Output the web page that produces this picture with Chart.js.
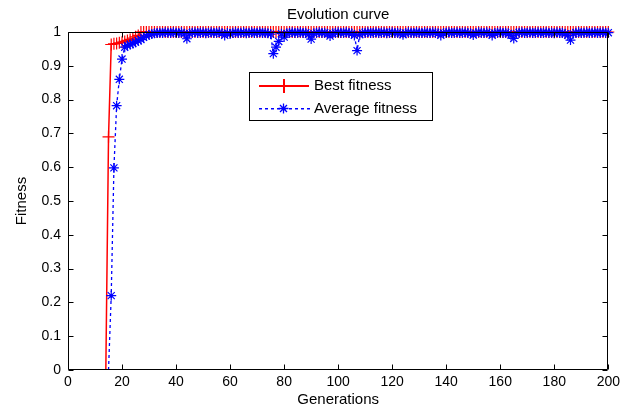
<!DOCTYPE html>
<html>
<head>
<meta charset="utf-8">
<script src="https://cdn.jsdelivr.net/npm/chart.js@4/dist/chart.umd.min.js"></script>
<style>
html,body{margin:0;padding:0;background:#fff;}
#c{display:block;}
</style>
</head>
<body>
<canvas id="c" width="624" height="410"></canvas>
<script>
// ---- data ----
const chartTitle = "Evolution curve";
const xAxisTitle = "Generations";
const yAxisTitle = "Fitness";
const seriesNames = ["Best fitness", "Average fitness"];
const xTickValues = [0, 20, 40, 60, 80, 100, 120, 140, 160, 180, 200];
const yTickValues = [0, 0.1, 0.2, 0.3, 0.4, 0.5, 0.6, 0.7, 0.8, 0.9, 1];

const bestStartGen = 14;
const bestFitness = [
  0, 0.69, 0.963, 0.965, 0.966, 0.968, 0.97, 0.972, 0.975, 0.978,
  0.982, 0.986, 0.99, 1, 1, 1, 1, 1, 1, 1,
  1, 1, 1, 1, 1, 1, 1, 1, 1, 1,
  1, 1, 1, 1, 1, 1, 1, 1, 1, 1,
  1, 1, 1, 1, 1, 1, 1, 1, 1, 1,
  1, 1, 1, 1, 1, 1, 1, 1, 1, 1,
  1, 1, 1, 1, 1, 1, 1, 1, 1, 1,
  1, 1, 1, 1, 1, 1, 1, 1, 1, 1,
  1, 1, 1, 1, 1, 1, 1, 1, 1, 1,
  1, 1, 1, 1, 1, 1, 1, 1, 1, 1,
  1, 1, 1, 1, 1, 1, 1, 1, 1, 1,
  1, 1, 1, 1, 1, 1, 1, 1, 1, 1,
  1, 1, 1, 1, 1, 1, 1, 1, 1, 1,
  1, 1, 1, 1, 1, 1, 1, 1, 1, 1,
  1, 1, 1, 1, 1, 1, 1, 1, 1, 1,
  1, 1, 1, 1, 1, 1, 1, 1, 1, 1,
  1, 1, 1, 1, 1, 1, 1, 1, 1, 1,
  1, 1, 1, 1, 1, 1, 1, 1, 1, 1,
  1, 1, 1, 1, 1, 1, 1
];

const avgStartGen = 15;
const averageFitness = [
  0, 0.22, 0.598, 0.782, 0.86, 0.92, 0.955, 0.96, 0.963, 0.966,
  0.97, 0.974, 0.978, 0.984, 0.988, 0.992, 0.994, 0.996, 0.997, 0.998,
  0.997, 0.999, 0.998, 0.997, 0.999, 0.998, 0.997, 0.999, 0.995, 0.98,
  0.996, 0.998, 0.999, 0.997, 0.998, 0.999, 0.996, 0.998, 0.999, 0.997,
  0.998, 0.999, 0.996, 0.99, 0.997, 0.994, 0.998, 0.999, 0.997, 0.998,
  0.999, 0.996, 0.998, 0.999, 0.997, 0.998, 0.999, 0.997, 0.998, 0.996,
  0.994, 0.936, 0.955, 0.972, 0.995, 0.985, 0.996, 0.998, 0.999, 0.997,
  0.998, 0.999, 0.997, 0.998, 0.993, 0.979, 0.996, 0.998, 0.999, 0.997,
  0.998, 0.995, 0.988, 0.996, 0.998, 0.999, 0.997, 0.998, 0.999, 0.997,
  0.996, 0.99, 0.945, 0.992, 0.997, 0.998, 0.999, 0.997, 0.998, 0.999,
  0.997, 0.998, 0.999, 0.996, 0.998, 0.999, 0.997, 0.998, 0.996, 0.992,
  0.997, 0.999, 0.998, 0.997, 0.999, 0.998, 0.997, 0.999, 0.998, 0.997,
  0.999, 0.998, 0.996, 0.99, 0.997, 0.998, 0.999, 0.997, 0.998, 0.999,
  0.997, 0.998, 0.999, 0.997, 0.996, 0.991, 0.997, 0.999, 0.998, 0.997,
  0.999, 0.996, 0.99, 0.997, 0.998, 0.999, 0.997, 0.998, 0.996, 0.99,
  0.981, 0.996, 0.998, 0.999, 0.997, 0.998, 0.999, 0.997, 0.998, 0.999,
  0.997, 0.998, 0.999, 0.997, 0.998, 0.996, 0.999, 0.997, 0.998, 0.995,
  0.99, 0.976, 0.995, 0.998, 0.999, 0.997, 0.998, 0.999, 0.997, 0.998,
  0.999, 0.997, 0.998, 0.999, 0.997, 0.998
];

const bestColor = "rgb(255,0,0)";
const avgColor = "rgb(0,0,255)";
const FONT = "'Liberation Sans', Arial, sans-serif";

function toPoints(start, arr) {
  return arr.map((v, i) => ({ x: start + i, y: v }));
}

// box + inward ticks (MATLAB style) and in-plot legend
const boxPlugin = {
  id: 'boxPlugin',
  afterDatasetsDraw(chart) {
    const { ctx, chartArea: a, scales } = chart;
    const L = Math.round(a.left) + 0.5, R = Math.round(a.right) - 0.5;
    const T = Math.round(a.top) + 0.5, B = Math.round(a.bottom) - 0.5;
    ctx.save();
    ctx.strokeStyle = '#000';
    ctx.lineWidth = 1;
    ctx.setLineDash([]);
    ctx.beginPath();
    ctx.rect(L, T, R - L, B - T);
    ctx.stroke();
    const tl = 5;
    ctx.beginPath();
    xTickValues.forEach(v => {
      const px = Math.round(scales.x.getPixelForValue(v)) + 0.5;
      ctx.moveTo(px, B); ctx.lineTo(px, B - tl);
      ctx.moveTo(px, T); ctx.lineTo(px, T + tl);
    });
    yTickValues.forEach(v => {
      const py = Math.round(scales.y.getPixelForValue(v)) + 0.5;
      ctx.moveTo(L, py); ctx.lineTo(L + tl, py);
      ctx.moveTo(R, py); ctx.lineTo(R - tl, py);
    });
    ctx.stroke();
    ctx.restore();

    // legend
    const bx = 249.5, by = 72.5, bw = 183, bh = 48;
    ctx.save();
    ctx.setLineDash([]);
    ctx.fillStyle = '#fff';
    ctx.fillRect(bx, by, bw, bh);
    ctx.strokeStyle = '#000';
    ctx.lineWidth = 1;
    ctx.strokeRect(bx, by, bw, bh);

    // row 1: red solid line with + marker
    const y1 = 85;
    ctx.fillStyle = bestColor;
    ctx.fillRect(259, y1, 50, 2);
    ctx.fillRect(283, y1 - 6, 2, 14);
    ctx.fillRect(277, y1, 14, 2);

    // row 2: blue dashed line with * marker
    const y2 = 108;
    ctx.fillStyle = avgColor;
    for (let x = 259; x < 309; x += 6) {
      ctx.fillRect(x, y2, 3, 1.5);
    }
    ctx.strokeStyle = avgColor;
    ctx.lineWidth = 1.3;
    ctx.beginPath();
    ctx.moveTo(283.5, y2 - 4.5); ctx.lineTo(283.5, y2 + 5.5);
    ctx.moveTo(278.5, y2 + 0.5); ctx.lineTo(288.5, y2 + 0.5);
    ctx.moveTo(280, y2 - 3); ctx.lineTo(287, y2 + 4);
    ctx.moveTo(287, y2 - 3); ctx.lineTo(280, y2 + 4);
    ctx.stroke();

    ctx.fillStyle = '#000';
    ctx.font = "15px " + FONT;
    ctx.textAlign = 'left';
    ctx.textBaseline = 'middle';
    ctx.fillText(seriesNames[0], 314, y1 + 1);
    ctx.fillText(seriesNames[1], 314, y2 + 1);
    ctx.restore();
  }
};

const hideZero = (r) => (ctx) => (ctx.raw && ctx.raw.y <= 0 ? 0 : r);

new Chart(document.getElementById('c'), {
  type: 'line',
  data: {
    datasets: [
      {
        label: seriesNames[1],
        data: toPoints(avgStartGen, averageFitness),
        borderColor: avgColor,
        backgroundColor: avgColor,
        borderWidth: 1.3,
        borderDash: [3, 3],
        pointStyle: 'star',
        pointRadius: hideZero(5),
        pointBorderWidth: 1.2,
        pointBorderColor: avgColor,
        pointBackgroundColor: avgColor,
        fill: false,
        tension: 0,
        clip: false,
        order: 0
      },
      {
        label: seriesNames[0],
        data: toPoints(bestStartGen, bestFitness),
        borderColor: bestColor,
        backgroundColor: bestColor,
        borderWidth: 1.5,
        pointStyle: 'cross',
        pointRadius: hideZero(6),
        pointBorderWidth: 1.2,
        pointBorderColor: bestColor,
        pointBackgroundColor: bestColor,
        fill: false,
        tension: 0,
        clip: false,
        order: 1
      }
    ]
  },
  options: {
    responsive: false,
    animation: false,
    devicePixelRatio: 1,
    layout: { padding: { left: 0, right: 12, top: 0, bottom: 0 } },
    plugins: {
      legend: { display: false },
      tooltip: { enabled: false },
      title: {
        display: true,
        text: chartTitle,
        fullSize: false,
        color: '#000',
        font: { family: FONT, size: 15, weight: 'normal' },
        padding: { top: 6, bottom: 8 }
      }
    },
    scales: {
      x: {
        type: 'linear',
        min: 0,
        max: 200,
        afterBuildTicks(scale) { scale.ticks = xTickValues.map(v => ({ value: v })); },
        afterFit(scale) { scale.height = 40; },
        grid: { display: false, drawTicks: false },
        border: { display: false },
        ticks: {
          color: '#000',
          font: { family: FONT, size: 14 },
          padding: 4,
          maxRotation: 0,
          autoSkip: false,
          callback: v => String(v)
        },
        title: {
          display: true,
          text: xAxisTitle,
          color: '#000',
          font: { family: FONT, size: 15 },
          padding: { top: 1, bottom: 1 }
        }
      },
      y: {
        type: 'linear',
        min: 0,
        max: 1,
        afterBuildTicks(scale) { scale.ticks = yTickValues.map(v => ({ value: v })); },
        afterFit(scale) { scale.width = 68; },
        grid: { display: false, drawTicks: false },
        border: { display: false },
        ticks: {
          color: '#000',
          font: { family: FONT, size: 14 },
          padding: 7,
          autoSkip: false,
          callback: v => String(Math.round(v * 10) / 10)
        },
        title: {
          display: true,
          text: yAxisTitle,
          color: '#000',
          font: { family: FONT, size: 15 },
          padding: { top: 13, bottom: 13 }
        }
      }
    }
  },
  plugins: [boxPlugin]
});
</script>
</body>
</html>
